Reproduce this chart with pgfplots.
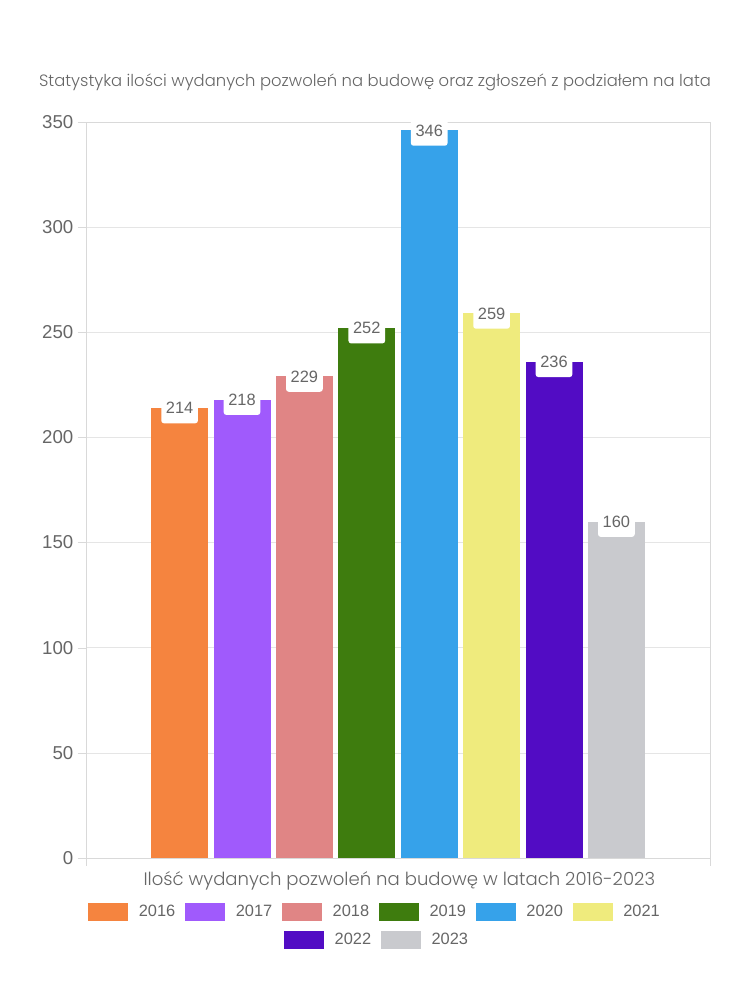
\documentclass[border=0pt]{standalone}
\usepackage{fontspec}
\setmainfont{Liberation Sans}
\newfontfamily\titlefont{Poppins Light}
\usepackage{pgfplots}
\pgfplotsset{compat=1.18}
\definecolor{txt}{HTML}{666666}
\definecolor{cA}{HTML}{F5843F}
\definecolor{cB}{HTML}{A05AFC}
\definecolor{cC}{HTML}{E08585}
\definecolor{cD}{HTML}{3E7C0E}
\definecolor{cE}{HTML}{36A2EA}
\definecolor{cF}{HTML}{EFEB7D}
\definecolor{cG}{HTML}{520CC4}
\definecolor{cH}{HTML}{C9CACE}
\pgfplotsset{
  legrow/.style={hide axis, scale only axis, width=1pt, height=1pt, xmin=0, xmax=1, ymin=0, ymax=1,
    anchor=center,
    legend style={at={(0.5,0.5)}, anchor=center, draw=none, fill=none,
      font=\fontsize{12.3}{14}\selectfont, text=txt,
      nodes={inner sep=0pt},
      /tikz/every odd column/.append style={column sep=8pt},
      /tikz/every even column/.append style={column sep=7.3pt}},
    legend image code/.code={\path[draw=none,##1] (0pt,-6.5pt) rectangle (30pt,6.5pt);}
  }
}
\begin{document}
\begin{tikzpicture}
\path[use as bounding box] (0,0) rectangle (562.5pt,750pt);
\begin{axis}[at={(64.5pt,106.5pt)}, anchor=south west, width=468pt, height=552pt, scale only axis,
  xmin=-1.5, xmax=8.5, ymin=0, ymax=350, ytick={0,50,...,350},
  xtick={-1.5,8.5}, xticklabels={},
  axis line style={draw=black!15}, tick style={draw=black!15}, ymajorgrids, grid style={black!10},
  tick align=outside, major tick length=6pt, tick pos=left,
  tick label style={font=\fontsize{14}{16}\selectfont, text=txt},
  /pgf/number format/assume math mode=true,
  ybar, bar width=42.75pt, bar shift=0pt, clip=false,
  nodes near coords,
  every node near coord/.append style={anchor=center, fill=white, rounded corners=2pt,
    inner xsep=3.5pt, inner ysep=0pt, minimum height=23pt, font=\fontsize{12.3}{14}\selectfont, text=txt},
  ]
\addplot[fill=cA, draw=none] coordinates {(0,214)};
\addplot[fill=cB, draw=none] coordinates {(1,218)};
\addplot[fill=cC, draw=none] coordinates {(2,229)};
\addplot[fill=cD, draw=none] coordinates {(3,252)};
\addplot[fill=cE, draw=none] coordinates {(4,346)};
\addplot[fill=cF, draw=none] coordinates {(5,259)};
\addplot[fill=cG, draw=none] coordinates {(6,236)};
\addplot[fill=cH, draw=none] coordinates {(7,160)};
\end{axis}
\node[font=\titlefont\fontsize{12.3}{14}\selectfont, text=txt] at (281.25pt,688.5pt) {Statystyka ilości wydanych pozwoleń na budowę oraz zgłoszeń z podziałem na lata};
\node[font=\titlefont\fontsize{13.55}{15}\selectfont, text=txt] at (299.5pt,89.5pt) {Ilość wydanych pozwoleń na budowę w latach 2016-2023};
\begin{axis}[legrow, at={(280.5pt,66pt)}, legend columns=6]
\addlegendimage{fill=cA}\addlegendentry{2016}
\addlegendimage{fill=cB}\addlegendentry{2017}
\addlegendimage{fill=cC}\addlegendentry{2018}
\addlegendimage{fill=cD}\addlegendentry{2019}
\addlegendimage{fill=cE}\addlegendentry{2020}
\addlegendimage{fill=cF}\addlegendentry{2021}
\end{axis}
\begin{axis}[legrow, at={(282pt,45pt)}, legend columns=2]
\addlegendimage{fill=cG}\addlegendentry{2022}
\addlegendimage{fill=cH}\addlegendentry{2023}
\end{axis}
\end{tikzpicture}
\end{document}
